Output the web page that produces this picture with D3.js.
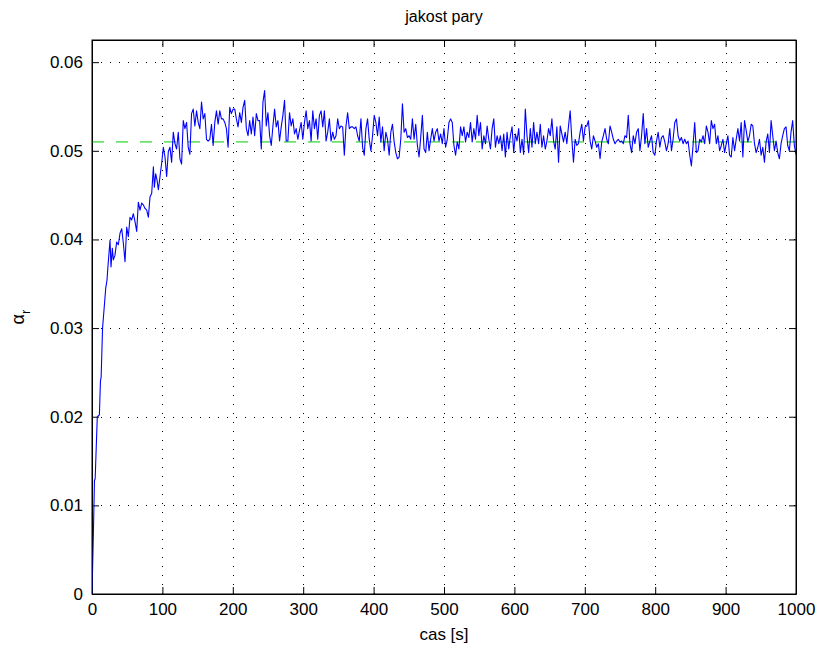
<!DOCTYPE html>
<html>
<head>
<meta charset="utf-8">
<script src="https://cdn.jsdelivr.net/npm/d3@7"></script>
<style>
  html, body { margin: 0; padding: 0; background: #fff; }
  #chart { width: 820px; height: 653px; }
  text { font-family: "Liberation Sans", Arial, Helvetica, sans-serif; fill: #000; }
</style>
</head>
<body>
<div id="chart"></div>
<script>
// jakost pary — steam quality over time

// start-up part, read at irregular times [s]
const riseTime = [0, 2, 3.5, 4.5, 7.5, 10.5, 12, 13, 15, 17.5, 19.5, 21.3, 22.5, 23.5, 25.6, 27, 28.9, 30.3,
  32.6, 35, 37.4, 39.8, 42.2, 44.5, 46.9, 49.3, 51.6, 54, 56.4, 58.7, 61.1, 63.5, 65.8, 68.2, 70.6, 72.9,
  75.3, 77.7, 80.1, 82.4, 84.8, 87.2, 88.6, 90.5, 92.4, 94.3];
const riseAlpha = [0, 0.0070, 0.0128, 0.0130, 0.0200, 0.0202, 0.0240, 0.0245, 0.0300, 0.0325, 0.0345, 0.0354,
  0.0368, 0.0378, 0.0399, 0.0369, 0.0390, 0.0377, 0.0382, 0.0397, 0.0394, 0.0407, 0.0412, 0.0396, 0.0375,
  0.0414, 0.0403, 0.0425, 0.0422, 0.0429, 0.0420, 0.0409, 0.0442, 0.0433, 0.0441, 0.0439, 0.0435, 0.0433,
  0.0425, 0.0448, 0.0452, 0.0482, 0.0459, 0.0474, 0.0467, 0.0456];

// rest of the run, evenly sampled from steadyStart to steadyEnd
const steadyStart = 96.6;
const steadyEnd = 1000;
const steadyAlpha = [
  // ~97 - 277 s
  0.0471, 0.0486, 0.0504, 0.0493, 0.0471, 0.0499, 0.0504, 0.0487, 0.0521, 0.0508, 0.0502, 0.0521, 0.0491,
  0.0485, 0.0534, 0.0525, 0.0532, 0.0504, 0.0496, 0.0542, 0.0547, 0.0528, 0.0545, 0.0532, 0.0525, 0.0555,
  0.0536, 0.0542, 0.0513, 0.0511, 0.0513, 0.0530, 0.0506, 0.0532, 0.0545, 0.0530, 0.0545, 0.0536, 0.0536,
  0.0532, 0.0525, 0.0504, 0.0549, 0.0542, 0.0547, 0.0547, 0.0536, 0.0527, 0.0543, 0.0532, 0.0549, 0.0557,
  0.0525, 0.0517, 0.0534, 0.0519, 0.0538, 0.0517, 0.0542, 0.0534, 0.0534, 0.0502, 0.0555, 0.0568, 0.0528,
  0.0543, 0.0517, 0.0506, 0.0528, 0.0547, 0.0527, 0.0534, 0.0511, 0.0527, 0.0540, 0.0557, 0.0511,
  // ~278 - 455 s
  0.0511, 0.0543, 0.0528, 0.0536, 0.0519, 0.0525, 0.0513, 0.0523, 0.0532, 0.0513, 0.0532, 0.0545, 0.0525,
  0.0534, 0.0511, 0.0545, 0.0525, 0.0536, 0.0513, 0.0540, 0.0545, 0.0527, 0.0545, 0.0511, 0.0521, 0.0536,
  0.0511, 0.0521, 0.0513, 0.0517, 0.0536, 0.0525, 0.0528, 0.0527, 0.0495, 0.0528, 0.0543, 0.0525, 0.0527,
  0.0527, 0.0525, 0.0527, 0.0517, 0.0511, 0.0536, 0.0504, 0.0495, 0.0525, 0.0536, 0.0513, 0.0500, 0.0517,
  0.0540, 0.0532, 0.0517, 0.0538, 0.0510, 0.0527, 0.0500, 0.0521, 0.0513, 0.0495, 0.0521, 0.0530, 0.0510,
  0.0498, 0.0491, 0.0493, 0.0513, 0.0553, 0.0521, 0.0525, 0.0515, 0.0517, 0.0513, 0.0536,
  // ~457 - 635 s
  0.0513, 0.0530, 0.0506, 0.0493, 0.0515, 0.0540, 0.0502, 0.0498, 0.0521, 0.0500, 0.0513, 0.0525, 0.0511,
  0.0521, 0.0525, 0.0511, 0.0519, 0.0508, 0.0525, 0.0504, 0.0513, 0.0532, 0.0536, 0.0532, 0.0506, 0.0495,
  0.0510, 0.0502, 0.0527, 0.0517, 0.0527, 0.0510, 0.0521, 0.0515, 0.0532, 0.0510, 0.0525, 0.0513, 0.0540,
  0.0517, 0.0532, 0.0502, 0.0517, 0.0508, 0.0528, 0.0513, 0.0502, 0.0525, 0.0536, 0.0504, 0.0517, 0.0508,
  0.0517, 0.0500, 0.0519, 0.0493, 0.0521, 0.0502, 0.0517, 0.0527, 0.0498, 0.0519, 0.0511, 0.0525, 0.0498,
  0.0513, 0.0496, 0.0547, 0.0517, 0.0498, 0.0525, 0.0504, 0.0532, 0.0508, 0.0521, 0.0508,
  // ~636 - 814 s
  0.0530, 0.0504, 0.0517, 0.0502, 0.0511, 0.0525, 0.0517, 0.0536, 0.0511, 0.0502, 0.0527, 0.0487, 0.0528,
  0.0519, 0.0510, 0.0521, 0.0508, 0.0528, 0.0545, 0.0513, 0.0487, 0.0513, 0.0506, 0.0508, 0.0521, 0.0530,
  0.0511, 0.0527, 0.0528, 0.0534, 0.0511, 0.0502, 0.0517, 0.0511, 0.0504, 0.0508, 0.0491, 0.0510, 0.0517,
  0.0525, 0.0513, 0.0508, 0.0528, 0.0521, 0.0513, 0.0508, 0.0511, 0.0513, 0.0510, 0.0511, 0.0508, 0.0517,
  0.0515, 0.0540, 0.0508, 0.0498, 0.0517, 0.0508, 0.0521, 0.0525, 0.0500, 0.0517, 0.0542, 0.0508, 0.0525,
  0.0504, 0.0511, 0.0517, 0.0498, 0.0495, 0.0511, 0.0521, 0.0504, 0.0515, 0.0517, 0.0510,
  // ~815 - 1000 s
  0.0500, 0.0508, 0.0525, 0.0500, 0.0513, 0.0532, 0.0536, 0.0517, 0.0511, 0.0515, 0.0508, 0.0513, 0.0508,
  0.0511, 0.0495, 0.0483, 0.0506, 0.0532, 0.0498, 0.0500, 0.0513, 0.0510, 0.0517, 0.0508, 0.0528, 0.0521,
  0.0508, 0.0534, 0.0525, 0.0530, 0.0508, 0.0517, 0.0500, 0.0506, 0.0513, 0.0498, 0.0508, 0.0517, 0.0495,
  0.0493, 0.0515, 0.0500, 0.0513, 0.0525, 0.0511, 0.0532, 0.0493, 0.0534, 0.0523, 0.0510, 0.0517, 0.0530,
  0.0528, 0.0508, 0.0498, 0.0504, 0.0513, 0.0495, 0.0504, 0.0487, 0.0510, 0.0519, 0.0498, 0.0534, 0.0517,
  0.0500, 0.0511, 0.0498, 0.0491, 0.0508, 0.0517, 0.0525, 0.0527, 0.0506, 0.0500, 0.0521, 0.0534, 0.0506,
  0.0496
];

// reference (set-point) level
const refAlpha = 0.051;

const xTicks = [0, 100, 200, 300, 400, 500, 600, 700, 800, 900, 1000];
const yTicks = [0, 0.01, 0.02, 0.03, 0.04, 0.05, 0.06];

const titleText = 'jakost pary';
const xLabelText = 'cas [s]';

(function () {
  const width = 820, height = 653;
  const margin = { top: 40, right: 24, bottom: 59, left: 92 };
  const iw = width - margin.left - margin.right;
  const ih = height - margin.top - margin.bottom;

  const svg = d3.select('#chart').append('svg')
    .attr('width', width)
    .attr('height', height)
    .attr('viewBox', `0 0 ${width} ${height}`);

  const x = d3.scaleLinear().domain([0, 1000]).range([0, iw]);
  const y = d3.scaleLinear().domain([0, 0.0625]).range([ih, 0]);

  const g = svg.append('g').attr('transform', `translate(${margin.left},${margin.top})`);

  // build the series
  const step = (steadyEnd - steadyStart) / (steadyAlpha.length - 1);
  const series = riseTime.map((t, i) => [t, riseAlpha[i]])
    .concat(steadyAlpha.map((v, i) => [steadyStart + i * step, v]));

  // grid (dotted)
  const grid = g.append('g').attr('class', 'grid')
    .attr('stroke', '#000').attr('stroke-width', 1)
    .attr('stroke-dasharray', '1,8').attr('shape-rendering', 'crispEdges');
  grid.selectAll('line.vx')
    .data(xTicks.slice(1, -1))
    .join('line')
    .attr('class', 'vx')
    .attr('x1', d => Math.round(x(d)) + 0.5).attr('x2', d => Math.round(x(d)) + 0.5)
    .attr('y1', ih).attr('y2', 0);
  grid.selectAll('line.hy')
    .data(yTicks.slice(1))
    .join('line')
    .attr('class', 'hy')
    .attr('y1', d => Math.round(y(d)) + 0.5).attr('y2', d => Math.round(y(d)) + 0.5)
    .attr('x1', 0).attr('x2', iw);

  // axes: MATLAB style, ticks inward on all sides
  const fmtY = d => d === 0 ? '0' : d3.format('.2f')(d);
  const fmtX = d3.format('d');
  const axBottom = g.append('g').attr('transform', `translate(0,${ih})`)
    .call(d3.axisBottom(x).tickValues(xTicks).tickSizeInner(-7).tickSizeOuter(0).tickPadding(9).tickFormat(fmtX));
  const axTop = g.append('g')
    .call(d3.axisTop(x).tickValues(xTicks).tickSizeInner(-7).tickSizeOuter(0).tickFormat(''));
  const axLeft = g.append('g')
    .call(d3.axisLeft(y).tickValues(yTicks).tickSizeInner(-7).tickSizeOuter(0).tickPadding(9).tickFormat(fmtY));
  const axRight = g.append('g').attr('transform', `translate(${iw},0)`)
    .call(d3.axisRight(y).tickValues(yTicks).tickSizeInner(-7).tickSizeOuter(0).tickFormat(''));

  [axBottom, axTop, axLeft, axRight].forEach(a => {
    a.select('.domain').attr('stroke', '#000').attr('stroke-width', 1);
    a.selectAll('.tick line').attr('stroke', '#000');
    a.selectAll('.tick text').attr('font-size', 17).attr('fill', '#000')
      .attr('font-family', '"Liberation Sans", Arial, Helvetica, sans-serif');
  });

  // clip data to the plotting box
  svg.append('clipPath').attr('id', 'plotclip')
    .append('rect').attr('width', iw).attr('height', ih);

  const plot = g.append('g').attr('clip-path', 'url(#plotclip)');

  // reference level, green dashed
  plot.append('line')
    .attr('x1', x(0)).attr('x2', x(1000))
    .attr('y1', y(refAlpha)).attr('y2', y(refAlpha))
    .attr('stroke', '#00cc00')
    .attr('stroke-width', 1)
    .attr('stroke-dasharray', '12,12');

  // measured alpha_r
  const line = d3.line().x(d => x(d[0])).y(d => y(d[1]));
  plot.append('path')
    .datum(series)
    .attr('fill', 'none')
    .attr('stroke', '#0000ff')
    .attr('stroke-width', 1.1)
    .attr('stroke-linejoin', 'round')
    .attr('d', line);

  // box on top
  g.append('rect')
    .attr('width', iw).attr('height', ih)
    .attr('fill', 'none').attr('stroke', '#000').attr('stroke-width', 1);

  // labels
  svg.append('text')
    .attr('x', margin.left + iw / 2).attr('y', 22)
    .attr('text-anchor', 'middle').attr('font-size', 16)
    .text(titleText);

  svg.append('text')
    .attr('x', margin.left + iw / 2).attr('y', 640)
    .attr('text-anchor', 'middle').attr('font-size', 17)
    .text(xLabelText);

  const yl = svg.append('text')
    .attr('transform', `translate(24,${margin.top + ih / 2}) rotate(-90)`)
    .attr('text-anchor', 'middle').attr('font-size', 18);
  yl.append('tspan').text('α');
  yl.append('tspan').attr('font-size', 13).attr('dy', 6).text('r');
})();
</script>
</body>
</html>
